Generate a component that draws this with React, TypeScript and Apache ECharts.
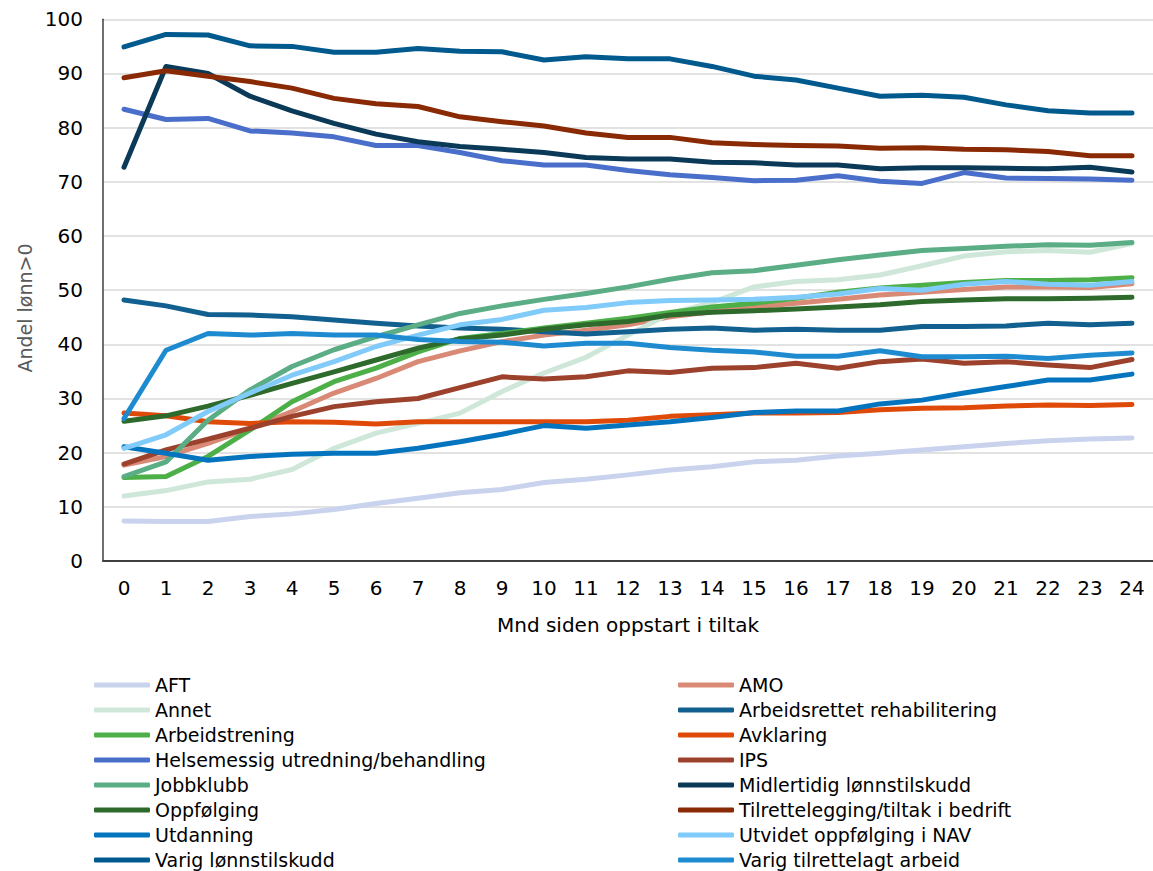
import React, { useEffect, useRef } from "react";
import * as echarts from "echarts";

const months = ["0","1","2","3","4","5","6","7","8","9","10","11","12","13","14","15","16","17","18","19","20","21","22","23","24"];

const aft = [7.4,7.3,7.3,8.2,8.7,9.5,10.6,11.6,12.6,13.2,14.5,15.1,15.9,16.8,17.4,18.3,18.6,19.4,19.9,20.5,21.1,21.7,22.2,22.5,22.7];
const amo = [17.7,19.3,21.7,24.5,27.6,31.0,33.7,36.8,38.8,40.5,41.7,42.6,43.6,45.1,46.0,46.9,47.6,48.3,49.1,49.6,50.1,50.6,50.6,50.5,51.2];
const annet = [12.0,13.0,14.6,15.1,16.9,20.8,23.6,25.4,27.3,31.3,34.7,37.6,41.7,45.7,47.7,50.6,51.6,51.9,52.8,54.5,56.3,57.1,57.3,57.0,58.6];
const arbRehab = [48.2,47.1,45.5,45.4,45.1,44.5,43.9,43.4,43.0,42.8,42.3,41.9,42.3,42.8,43.0,42.6,42.8,42.6,42.6,43.3,43.3,43.4,43.9,43.6,43.9];
const arbTrening = [15.4,15.6,19.3,24.2,29.4,33.1,35.6,38.6,41.1,42.0,43.0,43.9,44.8,45.9,46.9,47.6,48.5,49.6,50.4,50.9,51.4,51.8,51.8,51.9,52.3];
const avklaring = [27.3,26.8,25.7,25.4,25.7,25.6,25.3,25.7,25.7,25.7,25.7,25.7,26.0,26.7,27.0,27.3,27.3,27.4,27.9,28.2,28.3,28.6,28.8,28.7,28.9];
const helse = [83.4,81.5,81.7,79.4,79.0,78.3,76.7,76.7,75.4,73.9,73.1,73.1,72.1,71.3,70.8,70.2,70.3,71.1,70.1,69.7,71.7,70.7,70.6,70.5,70.3];
const ips = [17.9,20.5,22.5,24.5,26.7,28.5,29.4,30.0,32.0,34.0,33.6,34.0,35.1,34.8,35.6,35.7,36.5,35.6,36.8,37.3,36.5,36.8,36.2,35.7,37.2];
const jobbklubb = [15.6,18.3,26.0,31.6,35.9,39.0,41.4,43.6,45.7,47.1,48.3,49.4,50.6,52.0,53.2,53.6,54.6,55.6,56.5,57.3,57.7,58.1,58.4,58.3,58.8];
const midlertidig = [72.7,91.3,90.0,85.8,83.1,80.8,78.8,77.4,76.5,76.0,75.4,74.5,74.2,74.2,73.6,73.5,73.1,73.1,72.4,72.6,72.6,72.5,72.4,72.7,71.8];
const oppfolging = [25.8,26.8,28.6,30.6,32.8,34.9,37.1,39.3,41.0,41.7,42.8,43.6,44.2,45.4,45.9,46.2,46.5,46.9,47.3,47.9,48.2,48.4,48.4,48.5,48.7];
const tilrette = [89.2,90.5,89.5,88.5,87.3,85.4,84.4,83.9,82.0,81.1,80.3,79.0,78.2,78.2,77.2,76.9,76.7,76.6,76.2,76.3,76.0,75.9,75.6,74.8,74.8];
const utdanning = [21.1,19.9,18.6,19.3,19.7,19.9,19.9,20.8,22.0,23.4,25.0,24.5,25.1,25.7,26.5,27.4,27.7,27.7,29.0,29.7,31.0,32.2,33.4,33.4,34.5];
const utvidet = [20.8,23.3,27.6,31.0,34.3,36.8,39.6,41.7,43.6,44.6,46.3,46.8,47.7,48.1,48.2,48.3,48.7,49.3,50.3,50.0,51.1,51.6,51.1,50.9,51.6];
const varigLonn = [94.9,97.2,97.1,95.1,95.0,93.9,93.9,94.6,94.1,94.0,92.5,93.1,92.7,92.7,91.3,89.5,88.8,87.3,85.8,86.0,85.6,84.2,83.1,82.7,82.7];
const varigTilr = [26.3,38.9,42.0,41.7,42.0,41.7,41.7,40.9,40.5,40.4,39.7,40.2,40.2,39.4,38.9,38.6,37.8,37.8,38.8,37.7,37.7,37.8,37.4,38.0,38.4];

const seriesNames = [
  "AFT", "AMO", "Annet", "Arbeidsrettet rehabilitering", "Arbeidstrening", "Avklaring",
  "Helsemessig utredning/behandling", "IPS", "Jobbklubb", "Midlertidig lønnstilskudd",
  "Oppfølging", "Tilrettelegging/tiltak i bedrift", "Utdanning", "Utvidet oppfølging i NAV",
  "Varig lønnstilskudd", "Varig tilrettelagt arbeid",
];
const seriesData = [aft, amo, annet, arbRehab, arbTrening, avklaring, helse, ips, jobbklubb, midlertidig, oppfolging, tilrette, utdanning, utvidet, varigLonn, varigTilr];
const seriesColors = [
  "#c9d3ee", "#d98a77", "#cfe7d9", "#11608f", "#4caf47", "#e04a08",
  "#4a6fcb", "#9b412c", "#5bad85", "#0b3a58",
  "#2d6a2b", "#8a2a05", "#0574bf", "#80cbfa",
  "#005a8e", "#1e8bd1",
];

const FONT = "'DejaVu Sans', 'Noto Sans', sans-serif";

export default function App() {
  const ref = useRef<HTMLDivElement>(null);
  useEffect(() => {
    if (!ref.current) return;
    const chart = echarts.init(ref.current, null, { renderer: "svg" });
    const leftNames = seriesNames.filter((_, i) => i % 2 === 0);
    const rightNames = seriesNames.filter((_, i) => i % 2 === 1);
    const legendCommon = {
      orient: "vertical" as const,
      top: 675,
      height: 196,
      padding: 0,
      itemWidth: 56,
      itemHeight: 5,
      itemGap: 5,
      icon: "roundRect",
      textStyle: { fontFamily: FONT, fontSize: 19, color: "#000", lineHeight: 20 },
    };
    chart.setOption({
      animation: false,
      backgroundColor: "#fff",
      grid: { left: 103, right: 0, top: 19.3, bottom: 310, containLabel: false },
      legend: [
        { ...legendCommon, left: 94, data: leftNames },
        { ...legendCommon, left: 678, data: rightNames },
      ],
      graphic: [
        {
          type: "text",
          x: 25,
          y: 308,
          rotation: Math.PI / 2,
          style: {
            text: "Andel lønn>0",
            fontFamily: FONT,
            fontSize: 19,
            fill: "#595959",
            textAlign: "center",
            textVerticalAlign: "middle",
          },
        },
      ],
      xAxis: {
        type: "category",
        data: months,
        boundaryGap: true,
        name: "Mnd siden oppstart i tiltak",
        nameLocation: "middle",
        nameGap: 54,
        nameTextStyle: { fontFamily: FONT, fontSize: 20, color: "#000" },
        axisLine: { lineStyle: { color: "#404040", width: 2 } },
        axisTick: { show: false },
        axisLabel: { fontFamily: FONT, fontSize: 20, color: "#000", margin: 17 },
      },
      yAxis: {
        type: "value",
        min: 0,
        max: 100,
        interval: 10,
        axisLine: { show: true, lineStyle: { color: "#404040", width: 1.5 } },
        axisTick: { show: false },
        splitLine: { lineStyle: { color: "#d9d9d9", width: 1.5 } },
        axisLabel: { fontFamily: FONT, fontSize: 20, color: "#000", margin: 20 },
      },
      series: seriesNames.map((name, i) => ({
        name,
        type: "line",
        data: seriesData[i],
        symbol: "none",
        showSymbol: false,
        color: seriesColors[i],
        lineStyle: { width: 5, color: seriesColors[i], cap: "round", join: "round" },
        itemStyle: { color: seriesColors[i] },
      })),
    });
    return () => chart.dispose();
  }, []);
  return (
    <div
      ref={ref}
      style={{ position: "fixed", left: 0, top: 0, width: 1153, height: 871, background: "#fff" }}
    />
  );
}
